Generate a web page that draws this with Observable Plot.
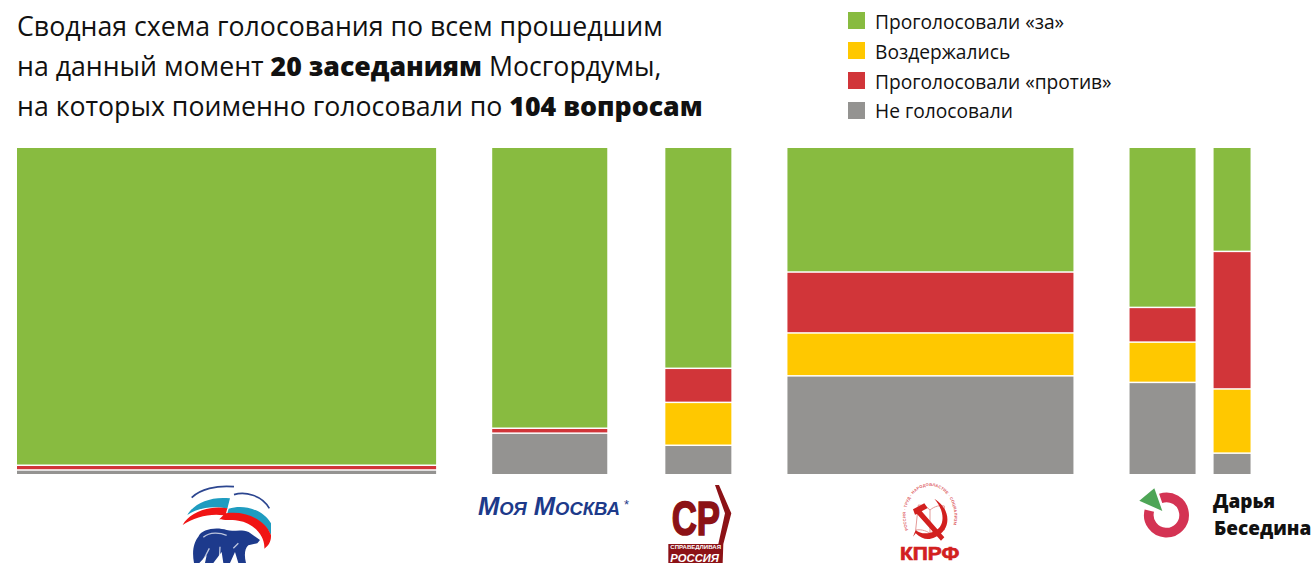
<!DOCTYPE html>
<html lang="ru">
<head>
<meta charset="utf-8">
<script src="https://cdn.jsdelivr.net/npm/d3@7"></script>
<script src="https://cdn.jsdelivr.net/npm/@observablehq/plot@0.6"></script>
<style>
  html, body { margin: 0; padding: 0; background: #fff; }
  body { width: 1315px; height: 563px; overflow: hidden; font-family: "Open Sans", "Noto Sans", sans-serif; color: #111; }
  #header { position: relative; width: 1315px; height: 133px; }
  #title { position: absolute; left: 17px; top: 6px; font-size: 26.7px; line-height: 40px; white-space: nowrap; }
  #title b { font-weight: 800; }
  #legend { position: absolute; left: 848px; top: 12px; font-size: 19.2px; }
  .row { position: absolute; left: 0; display: flex; align-items: center; height: 17px; white-space: nowrap; }
  .row span.t { position: relative; top: 0.5px; }
  .sw { width: 17px; height: 17px; margin-right: 10px; flex: none; }
  svg { display: block; }
</style>
</head>
<body>
<div id="header"><div id="title"></div><div id="legend"></div></div>
<div id="chart"></div>
<script>
// Фракции и их ширина (пропорциональна числу депутатов)
const parties = ["Единая Россия", "Моя Москва", "Справедливая Россия", "КПРФ", "Дарья Беседина", "Независимый"];
const widths = [19.05, 5.23, 3, 13, 3, 1.68];
const gapsBefore = [0.773, 2.55, 2.64, 2.55, 2.55, 0.82];

// Доли голосов, %
const voteFor =     [97.1, 85.8, 67.5, 38.1, 48.9, 31.8];
const voteAgainst = [1.44, 1.5,  10.4, 18.6, 10.6, 42.0];
const voteAbstain = [0,    0,    13.1, 13.1, 12.3, 19.6];
const voteNone =    [1.46, 12.7, 9.0,  30.2, 28.2, 6.6];

const legendLabels = ["Проголосовали «за»", "Воздержались", "Проголосовали «против»", "Не голосовали"];
const legendColors = ["#88bb40", "#ffc800", "#d13539", "#949391"];
const stackOrder = [
  ["Проголосовали «за»", voteFor],
  ["Проголосовали «против»", voteAgainst],
  ["Воздержались", voteAbstain],
  ["Не голосовали", voteNone]
];

const titleHtml = "Сводная схема голосования по всем прошедшим<br>на данный момент <b>20 заседаниям</b> Мосгордумы,<br>на которых поименно голосовали по <b>104 вопросам</b>";
document.getElementById("title").innerHTML = titleHtml;

const legendTops = [0, 30, 60, 89.5];
const legendEl = document.getElementById("legend");
legendLabels.forEach((label, i) => {
  const r = document.createElement("div");
  r.className = "row";
  r.style.top = legendTops[i] + "px";
  const s = document.createElement("span");
  s.className = "sw";
  s.style.background = legendColors[i];
  r.appendChild(s);
  const t = document.createElement("span");
  t.className = "t";
  t.textContent = label;
  r.appendChild(t);
  legendEl.appendChild(r);
});

// Построение таблицы
let cursor = 0;
const spans = parties.map((p, i) => {
  cursor += gapsBefore[i];
  const s = {party: p, x1: cursor, x2: cursor + widths[i]};
  cursor += widths[i];
  return s;
});
const rows = [];
spans.forEach((s, i) => {
  stackOrder.forEach(([kind, values]) => {
    rows.push({party: s.party, x1: s.x1, x2: s.x2, kind, share: values[i]});
  });
});

const NS = "http://www.w3.org/2000/svg";
function el(parent, name, attrs, text) {
  const e = document.createElementNS(NS, name);
  for (const k in attrs) e.setAttribute(k, attrs[k]);
  if (text != null) e.textContent = text;
  parent.appendChild(e);
  return e;
}
function logos() {
  const root = document.createElementNS(NS, "g");
  const page = el(root, "g", {transform: "translate(0,-133)", "text-anchor": "start"});

  // Единая Россия
  const er = el(page, "g", {transform: "translate(170,480) scale(0.3333)"});
  el(er, "path", {d: "M65 53 C90 28 140 15 192 20", fill: "none", stroke: "#2c4690", "stroke-width": 5});
  el(er, "path", {d: "M192 44 C225 34 275 45 298 85", fill: "none", stroke: "#2c4690", "stroke-width": 5});
  el(er, "path", {d: "M52 105 C72 70 122 48 180 55 L172 86 C125 75 80 85 52 105 Z", fill: "#1f9cc0"});
  el(er, "path", {d: "M176 86 C225 72 280 90 303 130 L303 165 C285 125 235 95 172 100 Z", fill: "#1f9cc0"});
  el(er, "path", {d: "M38 135 C58 98 118 74 172 85 L168 100 C228 92 285 118 303 165 C304 185 296 197 283 206 C286 168 250 128 205 122 C182 118 162 122 148 118 L160 106 C120 100 72 112 38 135 Z", fill: "#f01414"});
  el(er, "path", {d: "M85 170 C95 146 140 140 170 150 C190 156 212 146 236 156 L270 180 L262 190 L235 196 C224 206 222 226 228 249 L205 249 L195 216 L180 249 L160 249 L155 216 L130 249 L105 249 L110 226 L88 249 L72 249 C65 212 72 186 85 170 Z", fill: "#1d3a8c"});
  el(er, "path", {d: "M100 172 C120 155 150 158 170 166 M118 205 L100 240 M150 200 L148 240 M205 190 L190 205", fill: "none", stroke: "#fff", "stroke-width": 4, opacity: 0.7});

  // Моя Москва
  el(page, "text", {x: 478, y: 515, style: "font-variant: small-caps", "font-family": "Liberation Sans, sans-serif", "font-weight": 700, "font-style": "italic", "font-size": 25, textLength: 142, lengthAdjust: "spacingAndGlyphs", fill: "#1d3a8a"}, "Моя Москва");
  el(page, "text", {x: 624, y: 509, "font-family": "Liberation Sans, sans-serif", "font-size": 13, fill: "#1d3a8a"}, "*");

  // Справедливая Россия
  const sr = el(page, "g", {transform: "translate(655,480) scale(0.3333)"});
  el(sr, "path", {d: "M180 15 L192 15 L229 100 L205 192 L203 249 L40 249 L40 192 L190 192 L210 100 Z", fill: "#8c1216"});
  el(sr, "text", {x: 50, y: 165, "font-family": "Liberation Sans, sans-serif", "font-weight": 700, "font-size": 145, textLength: 145, lengthAdjust: "spacingAndGlyphs", fill: "#8c1216", stroke: "#8c1216", "stroke-width": 5}, "СР");
  el(sr, "text", {x: 46, y: 208, "font-family": "Liberation Sans, sans-serif", "font-weight": 700, "font-size": 14, textLength: 152, lengthAdjust: "spacingAndGlyphs", fill: "#fff"}, "СПРАВЕДЛИВАЯ");
  el(sr, "text", {x: 46, y: 246, "font-family": "Liberation Sans, sans-serif", "font-weight": 700, "font-style": "italic", "font-size": 33, textLength: 146, lengthAdjust: "spacingAndGlyphs", fill: "#fff"}, "РОССИЯ");

  // КПРФ
  const kp = el(page, "g", {transform: "translate(885,480) scale(0.3333)"});
  const defs = el(kp, "defs", {});
  el(defs, "path", {id: "kprfRing", d: "M70 150 C45 90 80 18 135 18 C190 18 225 90 200 150 C185 185 160 195 135 195 C110 195 85 185 70 150 Z"});
  const ringText = el(kp, "text", {"font-family": "Liberation Sans, sans-serif", "font-weight": 700, "font-size": 12, fill: "#d2201f", opacity: 0.75, "letter-spacing": 0.6});
  el(ringText, "textPath", {href: "#kprfRing"}, "РОССИЯ · ТРУД · НАРОДОВЛАСТИЕ · СОЦИАЛИЗМ");
  el(kp, "path", {d: "M100 75 C115 75 125 80 135 90 C150 78 165 75 178 78 L178 150 C160 148 148 150 135 160 C120 150 105 148 92 150 Z M135 90 L135 160", fill: "none", stroke: "#e49a98", "stroke-width": 3});
  el(kp, "path", {d: "M84 88 L118 70 L128 84 L110 94 L178 172 L168 182 L96 102 L90 104 Z", fill: "#d2201f"});
  el(kp, "path", {d: "M148 56 C200 88 200 150 150 172 C130 182 110 178 92 160 L84 170 L92 150 C112 168 150 160 165 140 C180 118 172 84 148 56 Z", fill: "#d2201f"});
  el(kp, "text", {x: 45, y: 240, "font-family": "Liberation Sans, sans-serif", "font-weight": 700, "font-size": 56, textLength: 178, lengthAdjust: "spacingAndGlyphs", fill: "#d2201f", stroke: "#d2201f", "stroke-width": 2}, "КПРФ");

  // Дарья Беседина
  const db = el(page, "g", {transform: "translate(1130,480) scale(0.3333)"});
  el(db, "path", {d: "M92 55 A53 53 0 1 1 58 92", fill: "none", stroke: "#d43353", "stroke-width": 29});
  el(db, "path", {d: "M28 62 L73 25 L97 93 Z", fill: "#4ea556"});
  el(page, "text", {x: 1213, y: 508, "font-family": "Open Sans, sans-serif", "font-weight": 800, "font-size": 19, fill: "#111"}, "Дарья");
  el(page, "text", {x: 1214, y: 535, "font-family": "Open Sans, sans-serif", "font-weight": 800, "font-size": 19, fill: "#111"}, "Беседина");
  return root;
}

const chart = Plot.plot({
  width: 1315,
  height: 430,
  marginTop: 15,
  marginBottom: 87.5,
  marginLeft: 0,
  marginRight: 0,
  x: {domain: [0, 1315 / 22], axis: null},
  y: {domain: [100, 0], axis: null},
  color: {domain: legendLabels, range: legendColors},
  marks: [
    Plot.rectY(rows, {x1: "x1", x2: "x2", y: "share", fill: "kind", order: null, insetBottom: 1.5}),
    logos
  ]
});
document.getElementById("chart").appendChild(chart);
</script>
</body>
</html>
